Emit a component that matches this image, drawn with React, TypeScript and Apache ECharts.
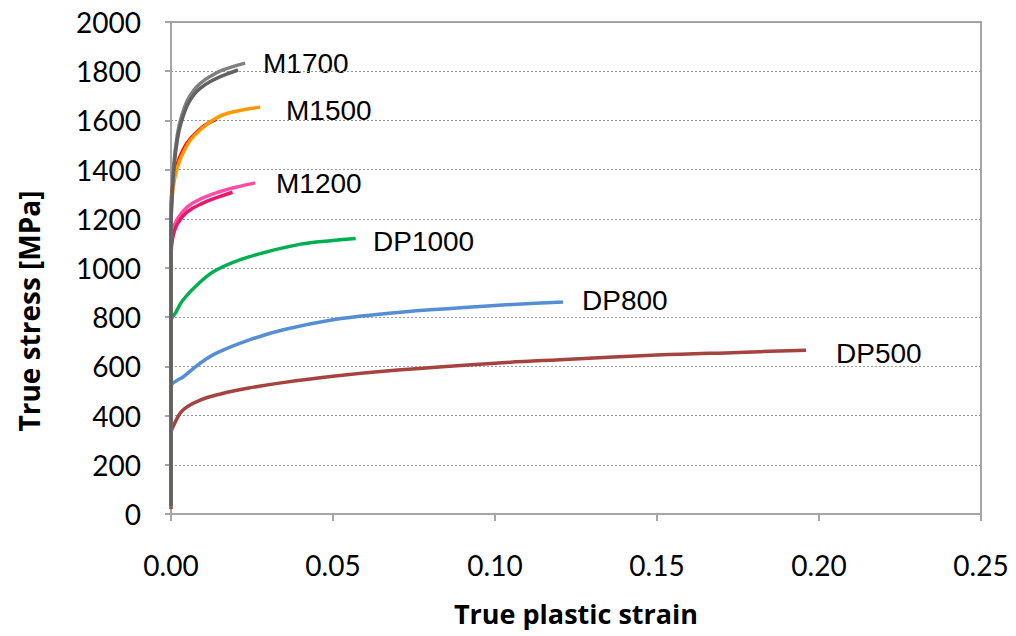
import React, { useEffect, useRef } from "react";
import * as echarts from "echarts";

const xTicks = [0, 0.05, 0.1, 0.15, 0.2, 0.25];
const yTicks = [0, 200, 400, 600, 800, 1000, 1200, 1400, 1600, 1800, 2000];

const dp500: number[][] = [[0, 20], [0, 325], [0.001, 365], [0.0037, 423], [0.009, 463], [0.015, 487], [0.024, 512], [0.035, 535], [0.05, 560], [0.07, 585], [0.1, 613], [0.12, 627], [0.15, 646], [0.175, 657], [0.196, 666]];
const dp800: number[][] = [[0, 30], [0, 520], [0.0015, 540], [0.0037, 557], [0.009, 613], [0.014, 654], [0.024, 707], [0.035, 750], [0.05, 790], [0.065, 813], [0.08, 830], [0.1, 848], [0.121, 862]];
const dp1000: number[][] = [[0, 40], [0, 785], [0.0015, 820], [0.0037, 870], [0.009, 943], [0.014, 992], [0.024, 1045], [0.04, 1097], [0.05, 1112], [0.057, 1120]];
const m1200a: number[][] = [[0, 40], [0, 1050], [0.0005, 1150], [0.002, 1200], [0.005, 1248], [0.009, 1280], [0.015, 1310], [0.02, 1328], [0.026, 1346]];
const m1200b: number[][] = [[0, 40], [0, 1040], [0.0005, 1120], [0.002, 1180], [0.005, 1228], [0.01, 1265], [0.015, 1290], [0.019, 1308]];
const m1500a: number[][] = [[0, 30], [0, 1230], [0.0007, 1350], [0.0037, 1480], [0.009, 1565], [0.014, 1605]];
const m1500b: number[][] = [[0, 30], [0, 1200], [0.0007, 1330], [0.002, 1410], [0.0037, 1467], [0.006, 1520], [0.009, 1561], [0.014, 1610], [0.019, 1634], [0.0275, 1654]];
const m1700a: number[][] = [[0, 30], [0, 1150], [0.0003, 1300], [0.001, 1440], [0.002, 1545], [0.003, 1605], [0.005, 1680], [0.007, 1722], [0.009, 1750], [0.012, 1778], [0.016, 1805], [0.0229, 1833]];
const m1700b: number[][] = [[0, 30], [0, 1150], [0.0003, 1280], [0.001, 1420], [0.002, 1525], [0.003, 1585], [0.005, 1660], [0.007, 1703], [0.009, 1730], [0.012, 1757], [0.016, 1782], [0.0207, 1805]];

const seriesNames = ["DP500", "DP800", "DP1000", "M1200a", "M1200b", "M1500a", "M1500b", "M1700a", "M1700b"];
const seriesData = [dp500, dp800, dp1000, m1200a, m1200b, m1500a, m1500b, m1700a, m1700b];
const seriesColors = ["#A5433F", "#558ED5", "#00B050", "#FF4DA6", "#E6196B", "#FF0000", "#FF9900", "#808080", "#626262"];

const curveLabels = ["M1700", "M1500", "M1200", "DP1000", "DP800", "DP500"];
const labelPos = [[263, 63], [286, 110], [276, 183], [373, 241], [582, 300], [836, 353]];

export default function App() {
  const ref = useRef<HTMLDivElement>(null);
  useEffect(() => {
    if (!ref.current) return;
    const chart = echarts.init(ref.current, null, { renderer: "svg" });
    const tickFont = { fontFamily: "Lato", fontSize: 28, color: "#000" };
    chart.setOption({
      animation: false,
      backgroundColor: "#fff",
      grid: {
        left: 171, right: 35, top: 22, bottom: 122,
        show: true, borderColor: "#A6A6A6", borderWidth: 2,
      },
      xAxis: {
        type: "value", min: 0, max: 0.25, interval: 0.05,
        name: "True plastic strain", nameLocation: "middle", nameGap: 86,
        nameTextStyle: { fontFamily: "Open Sans", fontSize: 27, fontWeight: "bold", color: "#000" },
        axisLine: { lineStyle: { color: "#A6A6A6", width: 2 } },
        axisTick: { show: true, length: 7, lineStyle: { color: "#A6A6A6", width: 2 } },
        axisLabel: { ...tickFont, margin: 37, formatter: (v: number) => v.toFixed(2) },
        splitLine: { show: false },
      },
      yAxis: {
        type: "value", min: 0, max: 2000, interval: 200,
        axisLine: { show: true, lineStyle: { color: "#A6A6A6", width: 2 } },
        axisTick: { show: true, length: 6, lineStyle: { color: "#A6A6A6", width: 2 } },
        axisLabel: { ...tickFont, margin: 30, formatter: (v: number) => String(v) },
        splitLine: { show: true, lineStyle: { color: "#9A9A9A", type: [2, 2], width: 1 } },
      },
      series: seriesData.map((d, i) => ({
        type: "line",
        name: seriesNames[i],
        data: d,
        showSymbol: false,
        smooth: 0.4,
        lineStyle: { color: seriesColors[i], width: 3.5 },
        itemStyle: { color: seriesColors[i] },
      })),
      graphic: [
        ...curveLabels.map((t, i) => ({
          type: "text",
          x: labelPos[i][0],
          y: labelPos[i][1],
          style: {
            text: t, fill: "#000", font: "28px 'Liberation Sans', Arial, sans-serif",
            verticalAlign: "middle",
          },
        })),
        {
          type: "text",
          x: 29, y: 311, rotation: Math.PI / 2,
          style: {
            text: "True stress [MPa]", fill: "#000",
            font: "bold 28px 'Open Sans', sans-serif",
            align: "center", verticalAlign: "middle",
          },
        },
      ],
    });
    return () => chart.dispose();
  }, []);
  return <div ref={ref} style={{ width: 1016, height: 636, position: "absolute", left: 0, top: 0 }} />;
}
